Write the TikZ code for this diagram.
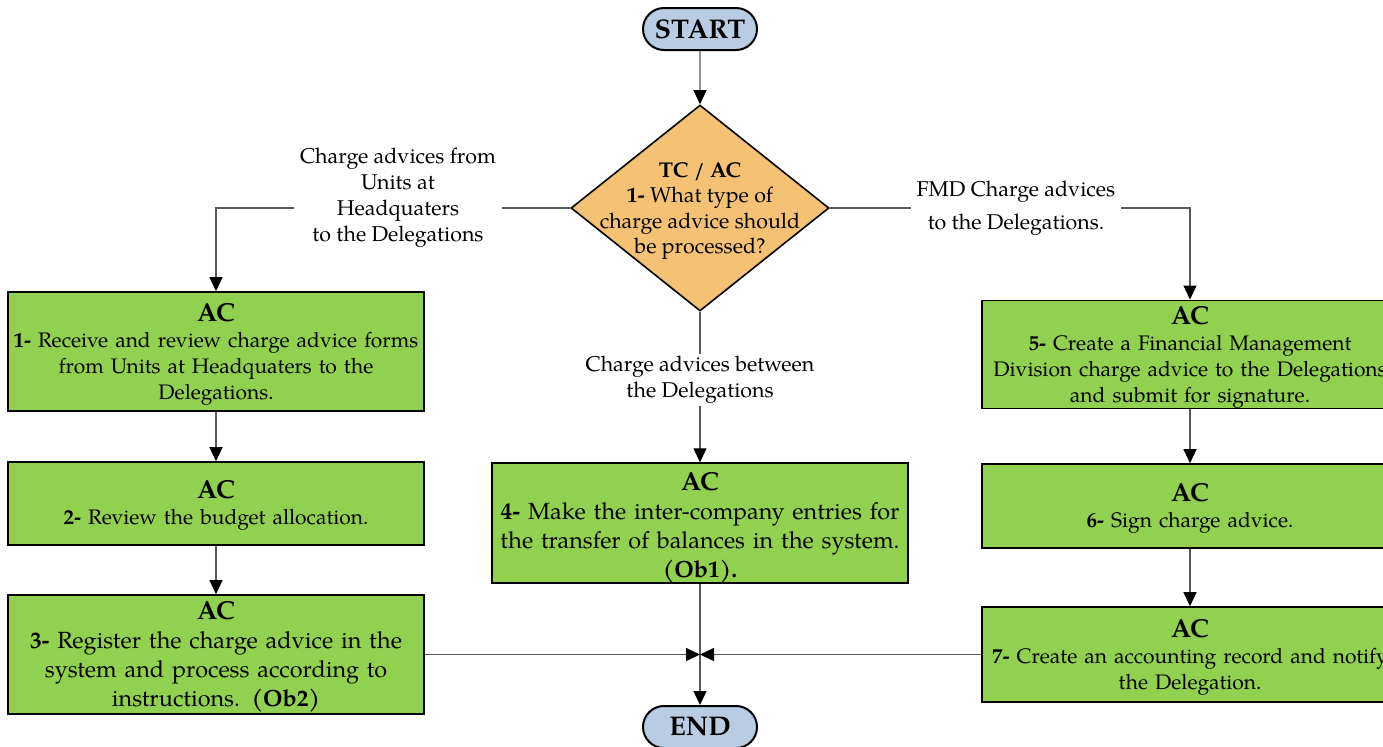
\documentclass[tikz,border=0pt]{standalone}
\usepackage{fontspec}
\setmainfont{TeX Gyre Pagella}
\usetikzlibrary{shapes.geometric,shapes.misc,arrows.meta}
\definecolor{stepgreen}{HTML}{92D050}
\definecolor{decorange}{HTML}{F5C175}
\definecolor{termblue}{HTML}{B8CCE4}
\definecolor{wire}{HTML}{595959}
% heading of every step box; the optional strut sets the room above it
\newcommand{\actor}[1][12.2pt]{{\fontsize{13}{15}\selectfont\bfseries\rule{0pt}{#1}AC}}
\begin{document}
\begin{tikzpicture}[x=0.5pt,y=-0.5pt,
  stepbox/.style={draw=black, line width=0.8pt, fill=stepgreen, text width=204pt,
    inner xsep=2pt, inner ysep=0pt, align=center, font=\fontsize{10.5}{13}\selectfont},
  bigtext/.style={font=\fontsize{11.7}{14.4}\selectfont},
  terminal/.style={rounded rectangle, draw=black, line width=1pt, fill=termblue,
    minimum width=57pt, minimum height=21pt, inner sep=0pt,
    font=\fontsize{13.5}{16}\selectfont\bfseries},
  decision/.style={diamond, draw=black, line width=0.8pt, fill=decorange,
    minimum width=129pt, minimum height=103pt, inner sep=0pt},
  lbl/.style={fill=white, align=center, inner xsep=3pt, inner ysep=1pt,
    font=\fontsize{10.7}{13}\selectfont},
  flow/.style={draw=wire, line width=0.6pt,
    -{Triangle[length=7pt,width=6.5pt,fill=black,color=black]}}]

\useasboundingbox (0,0) rectangle (1383,746);

% terminals
\node[terminal] (start) at (700,29) {START};
\node[terminal] (end) at (700,727) {END};

% decision
\node[decision] (dec) at (700,208) {};
\node[align=center, font=\fontsize{10.7}{12.7}\selectfont] (dectext) at (700,211)
  {\textbf{TC / AC}\\ \textbf{1-} What type of\\ charge advice should\\ be processed?};

% left column
\node[stepbox, minimum height=59.5pt] (s1) at (216,351.5)
  {\actor\\ \textbf{1-} Receive and review charge advice forms\\ from Units at Headquaters to the\\ Delegations.};
\node[stepbox, minimum height=41.5pt] (s2) at (216,503.5)
  {\actor[11.2pt]\\ \textbf{2-} Review the budget allocation.};
\node[stepbox, bigtext, minimum height=59.5pt] (s3) at (216,654.5)
  {\actor[11.2pt]\\ \textbf{3-} Register the charge advice in the\\ system and process according to\\ instructions. \textbf{(Ob2)}};

% middle column
\node[stepbox, bigtext, minimum height=59pt] (s4) at (700,523)
  {\actor[13.8pt]\\ \textbf{4-} Make the inter-company entries for\\ the transfer of balances in the system.\\ \textbf{(Ob1).}};

% right column
\node[stepbox, minimum height=52.5pt] (s5) at (1190,354.5)
  {\actor\\ \textbf{5-} Create a Financial Management\\ Division charge advice to the Delegations\\ and submit for signature.};
\node[stepbox, minimum height=42pt] (s6) at (1190,506)
  {\actor[11.2pt]\\ \textbf{6-} Sign charge advice.};
\node[stepbox, minimum height=47.5pt] (s7) at (1190,654.5)
  {\actor\\ \textbf{7-} Create an accounting record and notify\\ the Delegation.};

% connectors
\draw[flow] (start) -- (dec.north);
\draw[flow] (dec.west) -| (s1.north);
\draw[flow] (dec.east) -| (s5.north);
\draw[flow] (dec.south) -- (s4.north);
\draw[flow] (s1) -- (s2);
\draw[flow] (s2) -- (s3);
\draw[flow] (s5) -- (s6);
\draw[flow] (s6) -- (s7);
\draw[flow] (s4) -- (end);
\draw[flow] (s3.east) -- (s4.south |- s3.east);
\draw[flow] (s7.west) -- (s4.south |- s7.west);

% branch labels
\node[lbl] (lleft) at (398,197.5)
  {Charge advices from\\ Units at\\ Headquaters\\ to the Delegations};
\node[lbl] (lright) at (1016,208.5)
  {FMD Charge advices\\[3.5pt] to the Delegations.};
\node[lbl] (lmid) at (700,380)
  {Charge advices between\\ the Delegations};
\end{tikzpicture}
\end{document}
